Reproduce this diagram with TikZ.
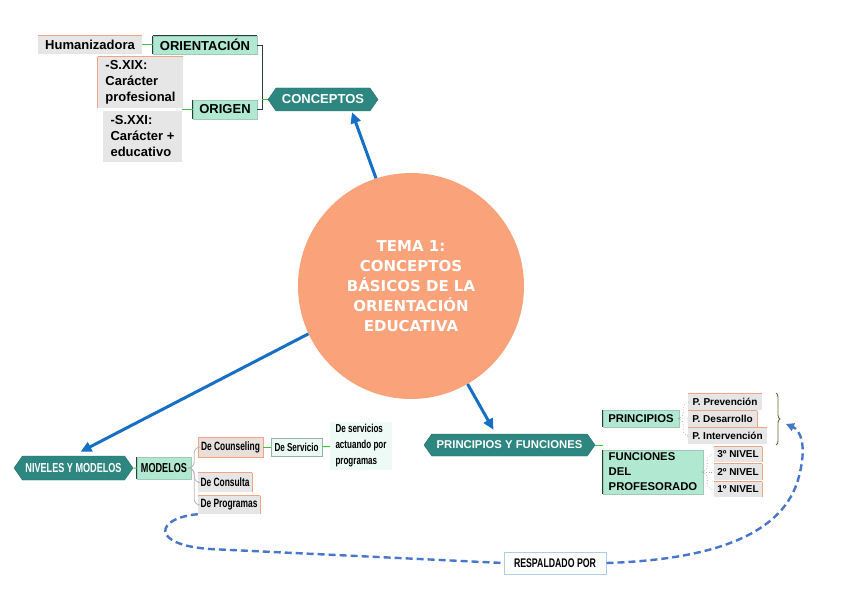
\documentclass[tikz,border=0pt]{standalone}
\usepackage{fontspec}
\setmainfont{Liberation Sans}
\newfontfamily\narrowfont[FakeStretch=0.7]{Liberation Sans}
\newfontfamily\verdfont{DejaVu Sans}
\usetikzlibrary{arrows.meta,shapes.symbols,decorations.pathreplacing}

\definecolor{tealbox}{RGB}{45,134,128}
\definecolor{mintbox}{RGB}{176,232,210}
\definecolor{grayfill}{RGB}{230,230,230}
\definecolor{orbord}{RGB}{244,164,132}
\definecolor{salmon}{RGB}{250,162,122}
\definecolor{arrowblue}{RGB}{21,111,196}
\definecolor{dashblue}{RGB}{72,118,204}
\definecolor{darkedge}{RGB}{35,65,60}

\begin{document}
\begin{tikzpicture}[
    x=1pt,y=-1pt,
    hexa/.style={signal,signal to=west and east,signal pointer angle=110,fill=tealbox,
      draw=tealbox!85!black,text=white,inner sep=0pt},
    mint/.style={fill=mintbox,draw=mintbox!70!gray,line width=0.4pt,inner sep=0pt},
    gbox/.style={fill=grayfill,inner sep=0pt},
    obox/.style={fill=orbord!12!grayfill,draw=orbord,line width=0.8pt,inner sep=0pt},
    sbox/.style={fill=mintbox!25,draw=mintbox!50!gray,line width=0.6pt,inner sep=0pt},
    big/.style={font=\bfseries\fontsize{13}{16}\selectfont},
    mid/.style={font=\bfseries\fontsize{11.3}{15}\selectfont},
    sml/.style={font=\bfseries\fontsize{10}{12}\selectfont},
    nar/.style={font=\narrowfont\bfseries\fontsize{12}{16}\selectfont},
    oline/.style={orbord,line width=1.2pt},
    eline/.style={darkedge,line width=1.2pt},
    mline/.style={green!55!gray,line width=1pt},
    gline/.style={gray!55,line width=0.8pt,rounded corners=6pt},
    dotline/.style={gray!70,line width=0.7pt,dotted,rounded corners=6pt},
    barrow/.style={arrowblue,line width=3pt,-{Triangle[length=11pt,width=10pt]}},
    dline/.style={dashblue,line width=2.4pt,dash pattern=on 7pt off 4pt}
]
\fill[white] (0,0) rectangle (848,599);

% centre
\node[circle,fill=salmon,minimum size=226pt,inner sep=0pt,text=white,align=center,
      font=\verdfont\bfseries\fontsize{15}{20}\selectfont] (tema) at (411,286)
      {TEMA 1:\\CONCEPTOS\\BÁSICOS DE LA\\ORIENTACIÓN\\EDUCATIVA};

% conceptos
\node[hexa,big,minimum width=110pt,minimum height=23pt] (conc) at (323,99.5) {CONCEPTOS};
\node[mint,big,minimum width=104pt,minimum height=18pt] (orient) at (205,45) {ORIENTACIÓN};
\node[gbox,big,minimum width=104pt,minimum height=18pt] (hum) at (90,45) {Humanizadora};
\node[mint,big,minimum width=64pt,minimum height=19pt] (origen) at (225,109.5) {ORIGEN};
\node[gbox,big,minimum width=85pt,minimum height=51pt,align=left] (sxix) at (140.5,82.5)
      {-S.XIX:\\Carácter\\profesional};
\node[gbox,big,minimum width=79pt,minimum height=51pt,align=left] (sxxi) at (142.5,136.5)
      {-S.XXI:\\Carácter +\\educativo};

% niveles y modelos
\node[hexa,minimum width=119pt,minimum height=24pt,
      font=\narrowfont\bfseries\fontsize{13}{15}\selectfont] (niv) at (73.5,468) {NIVELES Y MODELOS};
\node[mint,minimum width=54pt,minimum height=22pt,
      font=\narrowfont\bfseries\fontsize{13}{15}\selectfont] (modelos) at (164,468) {MODELOS};
\node[obox,nar,minimum width=65pt,minimum height=20pt] (counsel) at (230.5,447) {De Counseling};
\node[sbox,nar,minimum width=51pt,minimum height=18pt,
      font=\narrowfont\bfseries\fontsize{11.5}{16}\selectfont] (serv) at (296.5,447) {De Servicio};
\node[fill=mintbox!22,inner sep=0pt,minimum width=62pt,minimum height=48pt,align=left,
      font=\narrowfont\bfseries\fontsize{11.5}{16}\selectfont] (servs) at (361,446)
      {De servicios\\actuando por\\programas};
\node[gbox,nar,minimum width=54pt,minimum height=19pt] (consulta) at (225,482.5) {De Consulta};
\node[gbox,nar,minimum width=62pt,minimum height=18pt] (prog) at (229,505) {De Programas};

% principios y funciones
\node[hexa,mid,minimum width=171pt,minimum height=22pt] (pf) at (509.5,445) {PRINCIPIOS Y FUNCIONES};
\node[mint,mid,minimum width=76pt,minimum height=17pt] (princ) at (641,418.5) {PRINCIPIOS};
\node[mint,mid,minimum width=100pt,minimum height=44pt,align=left] (func) at (653,472)
      {FUNCIONES\\DEL\\PROFESORADO};
\node[gbox,sml,minimum width=74pt,minimum height=16pt] (pprev) at (725,402) {P. Prevención};
\node[gbox,sml,minimum width=69pt,minimum height=16pt] (pdes) at (722.5,419) {P. Desarrollo};
\node[gbox,sml,minimum width=79pt,minimum height=16pt] (pint) at (727.5,436) {P. Intervención};
\node[gbox,sml,minimum width=48pt,minimum height=15pt] (n3) at (738,454.5) {3º NIVEL};
\node[gbox,sml,minimum width=48pt,minimum height=16pt] (n2) at (738,472) {2º NIVEL};
\node[gbox,sml,minimum width=48pt,minimum height=15pt] (n1) at (738,489.5) {1º NIVEL};

\node[draw=arrowblue!35,fill=white,line width=1pt,minimum width=102pt,minimum height=22pt,
      inner sep=0pt,font=\narrowfont\bfseries\fontsize{12.5}{14}\selectfont] (resp) at (555,563) {RESPALDADO POR};

% box edges
\foreach \n in {hum,sxix,pprev,pdes,pint,n3,n2,n1,consulta,prog}
  \draw[oline] (\n.north west) -- (\n.north east);
\foreach \n in {pdes,n3,n2,n1,consulta,prog}
  \draw[oline] (\n.north east) -- (\n.south east);
\draw[oline] (sxix.north west) -- (sxix.south west);
\foreach \n in {orient,origen,modelos,princ,func}
  \draw[eline] (\n.north west) -- (\n.south west);
\draw[eline] (orient.north west) -- (orient.north east);

% connectors
\coordinate (cj) at (262,99.5);
\draw[darkedge,line width=0.9pt] (orient.east) -| (cj);
\draw[darkedge,line width=0.9pt] (origen.east) -| (cj);
\draw[mline] (cj) -- (conc.west);
\draw[mline] (hum) -- (orient);
\draw[mline] (origen.west) -- (origen.west -| sxxi.east);
\draw[mline] (niv) -- (modelos);
\draw[gline] (modelos.east) -- ++(3,0) |- (counsel.west);
\draw[gline] (modelos.east) -- ++(3,0) |- (consulta.west);
\draw[gline] (modelos.east) -- ++(3,0) |- (prog.west);
\draw[mline] (counsel) -- (serv);
\draw[mline] (serv) -- (servs);
\draw[mline] (pf.east) -- (pf.east -| princ.west);
\draw[dotline] (princ.east) -- ++(4,0) |- (pprev.west);
\draw[dotline] (princ.east) -- (pdes.west);
\draw[dotline] (princ.east) -- ++(4,0) |- (pint.west);
\draw[dotline] (func.east) -- ++(4,0) |- (n3.west);
\draw[dotline] (func.east) -- (n2.west);
\draw[dotline] (func.east) -- ++(4,0) |- (n1.west);

\coordinate (bt1) at (776,393);
\coordinate (bt2) at (776,445);
\draw[gray!40!olive!70!black,line width=0.9pt,decorate,decoration={brace,amplitude=4pt}] (bt1) -- (bt2);

% blue arrows
\draw[barrow] (tema.108) -- ([xshift=29pt,yshift=-1pt]conc.south);
\draw[barrow] (tema.205) -- ([xshift=7pt,yshift=4pt]niv.north);
\draw[barrow] (tema.-60) -- ([xshift=-16pt,yshift=4pt]pf.north);

% respaldado
\coordinate (ab) at (786,424);
\draw[dline] (prog.south west) .. controls (155,518) and (150,545) .. (210,549) -- (resp.west);
\draw[dline,-{Triangle[length=8pt,width=8pt]}] (resp.east) .. controls (700,560) and (780,540) .. (798,480)
      .. controls (808,445) and (800,430) .. (ab);
\end{tikzpicture}
\end{document}
